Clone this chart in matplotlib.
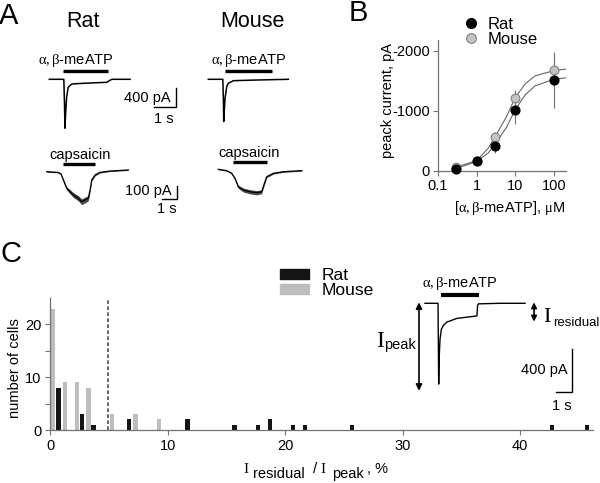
import numpy as np
import matplotlib
matplotlib.use("Agg")
from matplotlib import pyplot as plt
from matplotlib.lines import Line2D
from matplotlib.patches import Patch
from matplotlib.ticker import NullLocator

plt.rcParams['font.family'] = ['Liberation Sans', 'DejaVu Sans']
plt.rcParams['mathtext.fontset'] = 'custom'
plt.rcParams['mathtext.rm'] = 'Liberation Serif'
plt.rcParams['mathtext.sf'] = 'Liberation Sans'
plt.rcParams['mathtext.it'] = 'Liberation Serif:italic'
plt.rcParams['axes.unicode_minus'] = False

AGONIST = r'$\mathrm{α,β}$-meATP'

# ---- panel A traces: time (s), current (pA)
rat_atp_t = [0, 0.66, 0.69, 0.71, 0.75, 0.79, 0.86, 1.02, 1.55, 2.61, 2.73, 2.84, 3.67]
rat_atp_i = [0, 0, -500, -1030, -650, -365, -168, -99, -84, -63, -29, 0, 0]
mouse_atp_t = [0, 0.66, 0.69, 0.70, 0.76, 0.84, 0.91, 1.14, 2.2, 3.64]
mouse_atp_i = [0, 0, -500, -890, -400, -150, -84, -29, -15, 0]

rat_cap_t = [0, 0.75, 0.95, 1.11, 1.33, 1.55, 1.77, 2.11, 2.33, 2.55, 2.77, 2.89, 3.0, 3.22, 3.55, 4.22, 5.44]
rat_cap_i = [0, -5, -17, -62, -125, -150, -175, -200, -226, -213, -200, -138, -62, -25, -5, 5, 13]
rat_cap_noise = [4, 4, 5, 8, 12, 16, 18, 20, 22, 22, 20, 15, 10, 7, 5, 4, 4]
mouse_cap_t = [0, 0.56, 0.89, 1.11, 1.33, 1.67, 2.11, 2.56, 2.89, 3.0, 3.22, 3.67, 4.33, 5.56]
mouse_cap_i = [0, -10, -30, -68, -131, -156, -169, -176, -169, -131, -56, -30, -18, -10]
mouse_cap_noise = [4, 4, 5, 8, 12, 15, 16, 16, 15, 12, 8, 6, 5, 4]

# ---- panel B: dose response
conc = [0.3, 1, 3, 10, 100]
rat_peak = [-33, -160, -420, -1020, -1510]
rat_err = [20, 30, 125, 240, 455]
mouse_peak = [-60, -165, -560, -1220, -1680]
mouse_err = [30, 30, 90, 130, 295]
fit_conc = [0.23, 0.5, 1, 2, 3, 5.9, 10, 17.8, 32, 100, 200]
rat_fit = [-28, -90, -161, -300, -445, -728, -1028, -1267, -1417, -1528, -1550]
mouse_fit = [-45, -110, -172, -380, -572, -905, -1228, -1450, -1583, -1672, -1695]

# ---- panel C: histogram of residual current
rat_bins = [0, 2, 3, 6, 11, 15, 17, 18, 20, 21, 25, 42, 45]
rat_counts = [8, 3, 1, 2, 2, 1, 1, 2, 1, 1, 1, 1, 1]
mouse_bins = [0, 1, 2, 3, 5, 7, 9]
mouse_counts = [23, 9, 9, 8, 3, 3, 2]
cutoff = 4.9

inset_t = [0, 0.78, 0.80, 0.82, 0.85, 0.90, 0.98, 1.1, 1.3, 1.9, 2.69, 3.11, 3.15, 3.2, 4.5, 5.99]
inset_i = [0, 0, -400, -748, -500, -330, -240, -205, -175, -140, -125, -117, -20, -5, 0, 0]

W, H = 600, 483
fig = plt.figure(figsize=(6, 4.83), dpi=100)


def box(l, t, r, b):
    return [l / W, 1 - b / H, (r - l) / W, (b - t) / H]


def fx(x):
    return x / W


def fy(y):
    return 1 - y / H


def trace_axes(l, t, r, b, t0, base, px_s, px_pa):
    ax = fig.add_axes(box(l, t, r, b))
    ax.set_xlim((l - t0) / px_s, (r - t0) / px_s)
    ax.set_ylim((base - b) / px_pa, (base - t) / px_pa)
    ax.axis('off')
    return ax


def scale_bar(ax, x, y0, y1, dt, label_i, label_t, lab_x, lab_y, time_x, time_y, fs=10.5):
    ax.plot([x, x, x - dt], [y0, y1, y1], color='k', lw=1.0, solid_joinstyle='miter')
    ax.text(lab_x, lab_y, label_i, ha='right', va='center', fontsize=fs)
    ax.text(time_x, time_y, label_t, ha='center', va='center', fontsize=fs)


# panel A
ax = trace_axes(40, 45, 190, 135, 49.3, 79.3, 22, 0.0475)
ax.plot(rat_atp_t, rat_atp_i, color='k', lw=1.1)
ax.plot([0.64, 2.68], [170, 170], color='k', lw=2.4, solid_capstyle='butt')
ax.text(1.2, 406, AGONIST, ha='center', va='center', fontsize=10.5)
scale_bar(ax, 5.75, -189, -589, 1.0, '400 pA', '1 s', 5.53, -387, 5.21, -842)

ax = trace_axes(200, 45, 300, 135, 208.3, 79.3, 22, 0.0475)
ax.plot(mouse_atp_t, mouse_atp_i, color='k', lw=1.1)
ax.plot([0.76, 2.88], [170, 170], color='k', lw=2.4, solid_capstyle='butt')
ax.text(1.85, 406, AGONIST, ha='center', va='center', fontsize=10.5)

ax = trace_axes(40, 145, 190, 225, 46.7, 171.7, 15, 0.133)
lo = np.array(rat_cap_i) - np.array(rat_cap_noise)
hi = np.array(rat_cap_i) + np.array(rat_cap_noise)
ax.fill_between(rat_cap_t, lo, hi, color='0.3', lw=0)
ax.plot(rat_cap_t, rat_cap_i, color='k', lw=0.9)
ax.plot([1.07, 3.22], [58, 58], color='k', lw=2.4, solid_capstyle='butt')
ax.text(2.22, 125, 'capsaicin', ha='center', va='center', fontsize=10.5)
scale_bar(ax, 8.67, -108, -208, 1.0, '100 pA', '1 s', 8.33, -145, 8.0, -283)

ax = trace_axes(200, 145, 320, 225, 218.3, 169.3, 15, 0.133)
lo = np.array(mouse_cap_i) - np.array(mouse_cap_noise)
hi = np.array(mouse_cap_i) + np.array(mouse_cap_noise)
ax.fill_between(mouse_cap_t, lo, hi, color='0.3', lw=0)
ax.plot(mouse_cap_t, mouse_cap_i, color='k', lw=0.9)
ax.plot([1.0, 3.22], [57, 57], color='k', lw=2.4, solid_capstyle='butt')
ax.text(2.07, 120, 'capsaicin', ha='center', va='center', fontsize=10.5)

fig.text(fx(83.3), fy(21.7), 'Rat', ha='center', va='center', fontsize=15.5)
fig.text(fx(252.3), fy(21.7), 'Mouse', ha='center', va='center', fontsize=15.5)

# panel B
axb = fig.add_axes(box(437.7, 40, 566, 171))
axb.set_xscale('log')
axb.plot(fit_conc, mouse_fit, color='0.4', lw=0.8)
axb.plot(fit_conc, rat_fit, color='0.4', lw=0.8)
axb.errorbar(conc, mouse_peak, yerr=mouse_err, fmt='none', ecolor='0.45', elinewidth=0.8)
axb.errorbar(conc, rat_peak, yerr=rat_err, fmt='none', ecolor='0.45', elinewidth=0.8)
axb.plot(conc, mouse_peak, 'o', ms=6.3, mfc='#c4c4c4', mec='0.5', mew=0.8,
         clip_on=False, label='Mouse', zorder=4)
axb.plot(conc, rat_peak, 'o', ms=6.3, mfc='k', mec='k', clip_on=False, label='Rat', zorder=5)
axb.set_xlim(0.1, 200)
axb.set_ylim(0, -2180)
axb.set_xticks([0.1, 1, 10, 100])
axb.set_xticklabels(['0.1', '1', '10', '100'])
axb.xaxis.set_minor_locator(NullLocator())
axb.set_yticks([0, -1000, -2000])
axb.set_yticklabels(['0', '-1000', '-2000'])
for side in ['top', 'right']:
    axb.spines[side].set_visible(False)
for side in ['left', 'bottom']:
    axb.spines[side].set_color('0.45')
    axb.spines[side].set_linewidth(0.9)
axb.tick_params(direction='out', length=3.5, width=0.8, color='0.45', labelsize=10.5, pad=2)
h_rat = Line2D([], [], ls='none', marker='o', ms=7, mfc='k', mec='k')
h_mouse = Line2D([], [], ls='none', marker='o', ms=7, mfc='#c4c4c4', mec='0.5', mew=0.8)
fig.legend([h_rat, h_mouse], ['Rat', 'Mouse'], loc='upper left',
           bbox_to_anchor=(fx(463), fy(17)), frameon=False, fontsize=12,
           handlelength=1.0, handletextpad=0.45, labelspacing=0.0, borderpad=0,
           borderaxespad=0)
fig.text(fx(388), fy(100), 'peack current, pA', rotation=90, ha='center', va='center', fontsize=10.5)
fig.text(fx(510), fy(208), r'[$\mathrm{α,β}$-meATP], $\mathrm{μ}$M', ha='center', va='center',
         fontsize=10.5)

# panel C
axc = fig.add_axes(box(50.3, 298, 593, 430))
axc.bar(np.array(mouse_bins) + 0.07, mouse_counts, width=0.36, align='edge', color='#bdbdbd', lw=0)
axc.bar(np.array(rat_bins) + 0.5, rat_counts, width=0.37, align='edge', color='#141414', lw=0)
axc.axvline(cutoff, color='0.3', lw=1.2, ls=(0, (2.2, 1.4)))
axc.set_xlim(0, 46.2)
axc.set_ylim(0, 25)
axc.set_xticks([0, 10, 20, 30, 40])
axc.set_yticks([0, 10, 20])
axc.set_yticks([5, 15], minor=True)
for side in ['top', 'right']:
    axc.spines[side].set_visible(False)
for side in ['left', 'bottom']:
    axc.spines[side].set_color('0.45')
    axc.spines[side].set_linewidth(0.9)
axc.tick_params(which='both', direction='out', length=3.5, width=0.8, color='0.45',
                labelsize=10.5, pad=3)
fig.legend([Patch(color='#141414'), Patch(color='#bdbdbd')], ['Rat', 'Mouse'],
           loc='upper left', bbox_to_anchor=(fx(280), fy(268)), frameon=False, fontsize=12.5,
           handlelength=1.67, handleheight=0.49, handletextpad=0.75, labelspacing=0.0,
           borderpad=0, borderaxespad=0)
fig.text(fx(15), fy(368), 'number of cells', rotation=90, ha='center', va='center', fontsize=10.5)
fig.text(fx(243), fy(473), r'$\mathrm{I}$', fontsize=11, va='baseline')
fig.text(fx(253), fy(478), 'residual', fontsize=10.5, va='baseline')
fig.text(fx(312), fy(473), r'/ $\mathrm{I}$', fontsize=11, va='baseline')
fig.text(fx(332), fy(478), 'peak', fontsize=10.5, va='baseline')
fig.text(fx(367), fy(473), ', %', fontsize=10.5, va='baseline')

# panel C inset
axi = trace_axes(370, 272, 600, 415, 425, 303.3, 16.7, 0.108)
axi.plot(inset_t, inset_i, color='k', lw=1.0)
axi.plot([0.94, 3.25], [77, 77], color='k', lw=3.0, solid_capstyle='butt')
axi.text(2.1, 185, AGONIST, ha='center', va='center', fontsize=10.5)
scale_bar(axi, 8.82, -422, -822, 1.0, '400 pA', '1 s', 8.56, -616, 8.22, -955)
axi.annotate('', xy=(-0.36, 9), xytext=(-0.36, -810),
             arrowprops=dict(arrowstyle='<|-|>', color='k', lw=1.2, mutation_scale=9,
                             shrinkA=0, shrinkB=0))
axi.annotate('', xy=(6.53, 9), xytext=(6.53, -170),
             arrowprops=dict(arrowstyle='<|-|>', color='k', lw=1.2, mutation_scale=8,
                             shrinkA=0, shrinkB=0))
fig.text(fx(376), fy(347), r'$\mathrm{I}$', fontsize=17, va='baseline')
fig.text(fx(384.5), fy(349), 'peak', fontsize=10.5, va='baseline')
fig.text(fx(543), fy(321.7), r'$\mathrm{I}$', fontsize=16, va='baseline')
fig.text(fx(553), fy(325.7), 'residual', fontsize=9.5, va='baseline')

# panel letters
fig.text(fx(-1), fy(16), 'A', fontsize=21, va='center')
fig.text(fx(349), fy(13), 'B', fontsize=21, va='center')
fig.text(fx(1), fy(254), 'C', fontsize=21, va='center')

fig.savefig('out.png', dpi=100)
